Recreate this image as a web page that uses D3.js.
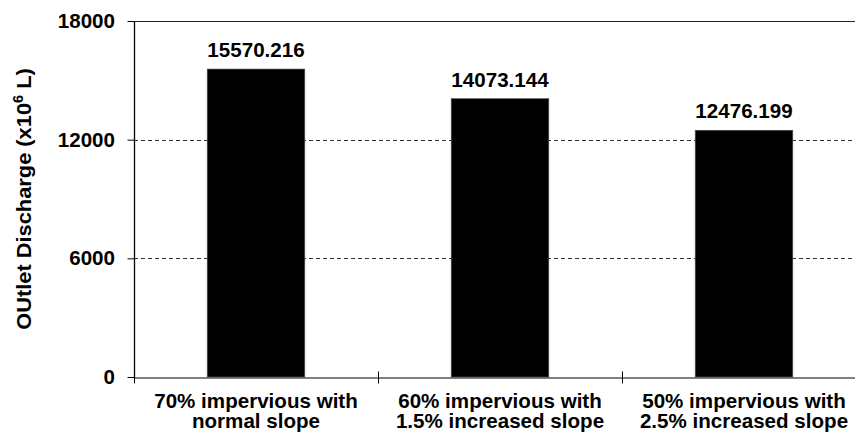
<!DOCTYPE html>
<html>
<head>
<meta charset="utf-8">
<script src="https://cdn.jsdelivr.net/npm/d3@7"></script>
<style>
  html, body { margin: 0; padding: 0; background: #fff; }
  svg { display: block; }
  text { font-family: "Liberation Sans", Arial, sans-serif; font-weight: bold; fill: #000; }
</style>
</head>
<body>
<script>
const categories = [
  ["70% impervious with", "normal slope"],
  ["60% impervious with", "1.5% increased slope"],
  ["50% impervious with", "2.5% increased slope"]
];
const values = [15570.216, 14073.144, 12476.199];
const valueLabels = ["15570.216", "14073.144", "12476.199"];
const yTicks = [0, 6000, 12000, 18000];
const yTitle = "OUtlet Discharge (x10";
const yTitleSup = "6";
const yTitleEnd = " L)";

(function () {
const W = 855, H = 434;
const mLeft = 134, mTop = 21, plotW = 732, mBottom = 377;
const fs = 19.8, sx = 1.04;

const svg = d3.select("body").append("svg").attr("width", W).attr("height", H);

const keys = categories.map((c, i) => "c" + i);
const x = d3.scaleBand().domain(keys).range([mLeft, mLeft + plotW])
  .paddingInner(0.6).paddingOuter(0.3);
const y = d3.scaleLinear().domain([0, 18000]).range([mBottom, mTop]);

// gridlines
svg.append("g").selectAll("line").data(yTicks.filter(t => t > 0 && t < 18000)).join("line")
  .attr("x1", mLeft).attr("x2", mLeft + plotW)
  .attr("y1", d => Math.round(y(d)) + 0.5).attr("y2", d => Math.round(y(d)) + 0.5)
  .attr("stroke", "#333").attr("stroke-width", 1).attr("stroke-dasharray", "4,3");
// top border
svg.append("line")
  .attr("x1", mLeft).attr("x2", mLeft + plotW)
  .attr("y1", Math.round(y(18000)) + 0.5).attr("y2", Math.round(y(18000)) + 0.5)
  .attr("stroke", "#222").attr("stroke-width", 1.2);

// bars
svg.append("g").selectAll("rect").data(values).join("rect")
  .attr("x", (d, i) => x(keys[i]))
  .attr("width", x.bandwidth())
  .attr("y", d => y(d))
  .attr("height", d => y(0) - y(d))
  .attr("fill", "#000").attr("stroke", "#555").attr("stroke-width", 0.6);

// value labels
svg.append("g").selectAll("text").data(values).join("text")
  .attr("transform", (d, i) => `translate(${x(keys[i]) + x.bandwidth() / 2},${y(d) - 12}) scale(${sx},1)`)
  .attr("text-anchor", "middle").style("font-size", fs + "px")
  .text((d, i) => valueLabels[i]);

// y axis
const yAxis = d3.axisLeft(y).tickValues(yTicks).tickSize(7).tickFormat("");
const gy = svg.append("g").attr("transform", `translate(${mLeft + 0.5},0)`).call(yAxis);
gy.select(".domain").attr("stroke", "#000").attr("stroke-width", 1.3).attr("d", `M0,${mTop}V${mBottom}`);
gy.selectAll(".tick line").attr("stroke", "#000");
svg.append("g").selectAll("text").data(yTicks).join("text")
  .attr("transform", d => `translate(115,${y(d) + 7}) scale(${sx},1)`)
  .attr("text-anchor", "end").style("font-size", fs + "px")
  .text(d => d);

// x axis
const xAxis = d3.axisBottom(x).tickSize(0).tickFormat("");
const gx = svg.append("g").attr("transform", `translate(0,${Math.round(mBottom) + 0.5})`).call(xAxis);
gx.select(".domain").attr("stroke", "#000").attr("stroke-width", 1.2);
const bounds = d3.range(keys.length + 1).map(i => x.range()[0] + i * x.step());
gx.selectAll("line.bt").data(bounds).join("line").attr("class", "bt")
  .attr("x1", d => Math.round(d) + 0.5).attr("x2", d => Math.round(d) + 0.5)
  .attr("y1", -6).attr("y2", 6).attr("stroke", "#000");

// x labels
const xl = svg.append("g").selectAll("text").data(categories).join("text")
  .attr("transform", (d, i) => `translate(${x(keys[i]) + x.bandwidth() / 2},408) scale(${sx},1)`)
  .attr("text-anchor", "middle").style("font-size", fs + "px");
xl.selectAll("tspan").data(d => d).join("tspan")
  .attr("x", 0).attr("dy", (d, j) => j === 0 ? 0 : 20).text(d => d);

// y title
const yt = svg.append("text")
  .attr("transform", `translate(31,${(mTop + mBottom) / 2}) rotate(-90) scale(${sx},1)`)
  .attr("text-anchor", "middle").style("font-size", "21px");
yt.append("tspan").text(yTitle);
yt.append("tspan").attr("dy", -8).style("font-size", "14px").text(yTitleSup);
yt.append("tspan").attr("dy", 8).text(yTitleEnd);
})();
</script>
</body>
</html>
